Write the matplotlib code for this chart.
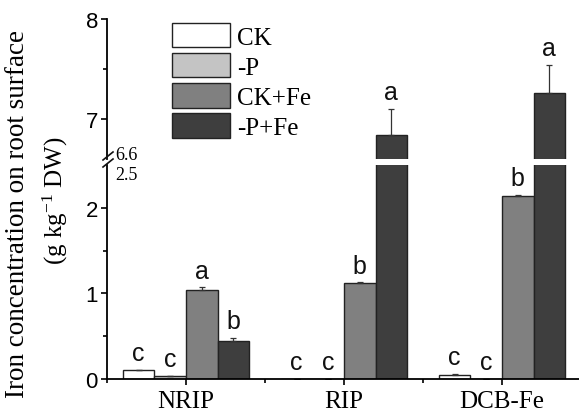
import matplotlib
matplotlib.use('Agg')
import matplotlib.pyplot as plt
import numpy as np
from matplotlib.lines import Line2D

plt.rcParams['mathtext.fontset'] = 'custom'
plt.rcParams['mathtext.rm'] = 'Liberation Serif'
plt.rcParams['mathtext.it'] = 'Liberation Serif:italic'

categories = ['NRIP', 'RIP', 'DCB-Fe']
treatments = ['CK', '-P', 'CK+Fe', '-P+Fe']

ck = [0.10, 0.00, 0.05]
minus_p = [0.04, 0.00, 0.00]
ck_fe = [1.04, 1.12, 2.14]
minus_p_fe = [0.44, 6.84, 7.26]

ck_err = [0.01, 0.0, 0.01]
minus_p_err = [0.0, 0.0, 0.0]
ck_fe_err = [0.03, 0.01, 0.01]
minus_p_fe_err = [0.04, 0.26, 0.28]

ck_sig = ['c', 'c', 'c']
minus_p_sig = ['c', 'c', 'c']
ck_fe_sig = ['a', 'b', 'b']
minus_p_fe_sig = ['b', 'a', 'a']

values = [ck, minus_p, ck_fe, minus_p_fe]
errors = [ck_err, minus_p_err, ck_fe_err, minus_p_fe_err]
letters = [ck_sig, minus_p_sig, ck_fe_sig, minus_p_fe_sig]
colors = ['#ffffff', '#c4c4c4', '#808080', '#3e3e3e']

W, H = 579, 414
fig = plt.figure(figsize=(W / 100, H / 100), dpi=100)

left = 107 / W
width = 474 / W
ax_bot = fig.add_axes([left, (H - 380) / H, width, (380 - 166) / H])
ax_top = fig.add_axes([left, (H - 160) / H, width, (160 - 20) / H])

x = np.arange(1, len(categories) + 1)
bar_width = 0.2
offsets = [-0.3, -0.1, 0.1, 0.3]
sans = 'Liberation Sans'
serif = 'Liberation Serif'

for ax in (ax_bot, ax_top):
    for i in range(4):
        ax.bar(x + offsets[i], values[i], bar_width, color=colors[i],
               edgecolor='#222222', linewidth=1.0, label=treatments[i],
               yerr=[np.zeros(3), errors[i]], capsize=2.5,
               error_kw=dict(ecolor='#333333', elinewidth=0.9, capthick=0.9))
    ax.set_xlim(0.5, 3.5)
    for s in ('top', 'right'):
        ax.spines[s].set_visible(False)
    ax.spines['left'].set_linewidth(1.3)

ax_bot.set_ylim(0, 2.5)
ax_top.set_ylim(6.6, 8)

ax_bot.set_yticks([0, 1, 2])
ax_bot.set_yticks([0.5, 1.5], minor=True)
ax_top.set_yticks([7, 8])
ax_top.set_yticks([7.5], minor=True)

for ax in (ax_bot, ax_top):
    ax.tick_params(axis='y', which='major', direction='out', length=4.5,
                   width=1.2, pad=2, labelsize=16)
    ax.tick_params(axis='y', which='minor', direction='out', length=3,
                   width=1.2)
    for lbl in ax.get_yticklabels():
        lbl.set_fontfamily(sans)

ax_top.spines['bottom'].set_visible(False)
ax_top.set_xticks([])

ax_bot.spines['bottom'].set_linewidth(1.3)
ax_bot.set_xticks(x)
ax_bot.set_xticks([0.5, 1.5, 2.5, 3.5], minor=True)
ax_bot.set_xticklabels(categories, fontfamily=serif, fontsize=18)
ax_bot.tick_params(axis='x', which='major', direction='out', length=4,
                   width=1.2, pad=4)
ax_bot.tick_params(axis='x', which='minor', direction='out', length=3,
                   width=1.2)

# significance letters
for i in range(4):
    for j in range(3):
        top = values[i][j] + errors[i][j]
        ax = ax_top if top > 2.5 else ax_bot
        ax.annotate(letters[i][j], (x[j] + offsets[i], top),
                    xytext=(0, 7), textcoords='offset points',
                    ha='center', va='baseline', fontsize=18,
                    fontfamily=sans, color='#111111')

# axis break marks
for dy in (0, 7):
    fig.add_artist(Line2D([103 / W, 113 / W],
                          [(H - 161 - dy) / H, (H - 153 - dy) / H],
                          color='#111111', lw=1.2))
fig.text(115 / W, (H - 155) / H, '6.6', fontfamily=serif, fontsize=13,
         va='center', ha='left')
fig.text(115 / W, (H - 176) / H, '2.5', fontfamily=serif, fontsize=13,
         va='center', ha='left')

# y label
fig.text(18 / W, (H - 214) / H, 'Iron concentration on root surface',
         rotation=90, ha='center', va='center', fontfamily=serif, fontsize=19.5)
fig.text(55 / W, (H - 201) / H, '(g kg$^{-1}$ DW)',
         rotation=90, ha='center', va='center', fontfamily=serif, fontsize=18)

handles, labels = ax_bot.get_legend_handles_labels()
bar_handles = [h.patches[0] if hasattr(h, 'patches') else h for h in handles]
fig.legend(bar_handles, labels, loc='upper left',
           bbox_to_anchor=(172 / W, (H - 24) / H), frameon=False,
           prop={'family': serif, 'size': 18}, borderpad=0, borderaxespad=0,
           handlelength=2.32, handleheight=1.12, handletextpad=0.28,
           labelspacing=0.18)

fig.savefig('out.png', dpi=100)
